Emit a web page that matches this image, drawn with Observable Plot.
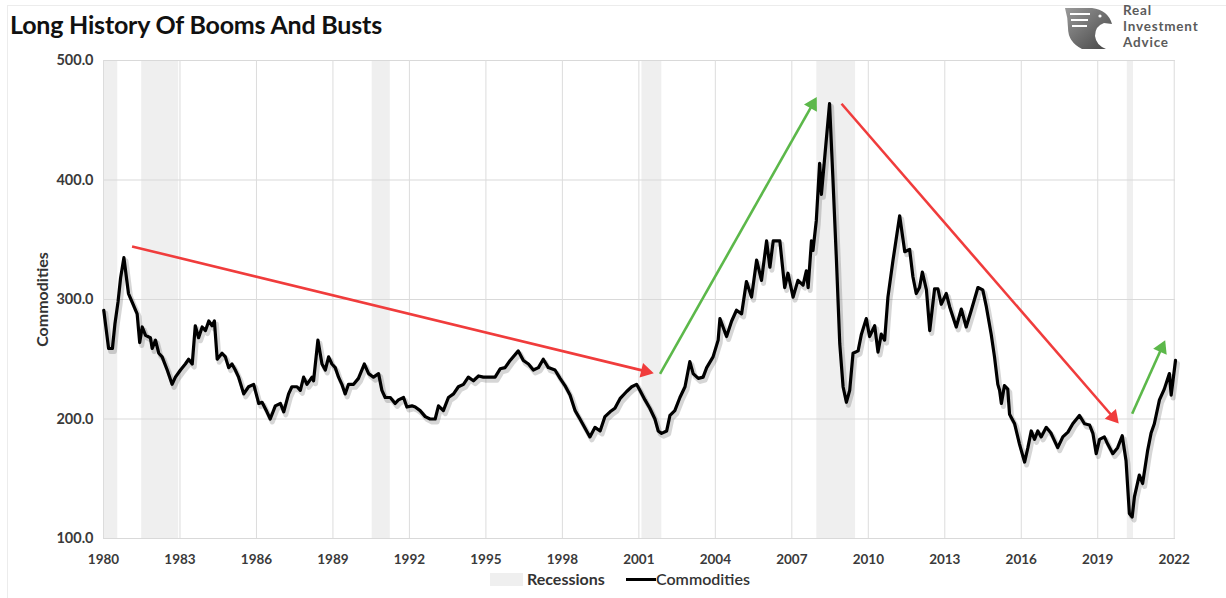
<!DOCTYPE html>
<html>
<head>
<meta charset="utf-8">
<script src="https://cdn.jsdelivr.net/npm/d3@7"></script>
<script src="https://cdn.jsdelivr.net/npm/@observablehq/plot@0.6"></script>
<style>
  html, body { margin: 0; padding: 0; background: #fff; }
  body { width: 1226px; height: 598px; overflow: hidden; position: relative; font-family: Lato, "Open Sans", sans-serif; }
  #frame { position: absolute; left: 7px; top: 5px; right: -2px; bottom: -2px; border-left: 1px solid #ececec; border-top: 1px solid #ececec; }
  #title { position: absolute; left: 10px; top: 9px; font-size: 25px; font-weight: 700; color: #111; letter-spacing: -0.2px; }
  #chart { position: absolute; left: 0; top: 48px; }
  #logo { position: absolute; left: 1062px; top: 4px; }
  #logotext { position: absolute; left: 1123px; top: 2px; font-size: 13.5px; font-weight: 700; color: #5b5b5b; line-height: 16.2px; letter-spacing: 0.8px; }
  #legend { position: absolute; top: 569px; left: 0; width: 1226px; height: 22px; font-size: 16px; color: #333; }
  .sw { position: absolute; }
</style>
</head>
<body>
<div id="frame"></div>
<div id="title">Long History Of Booms And Busts</div>
<svg id="logo" width="54" height="48" viewBox="0 0 54 48">
  <defs>
    <linearGradient id="lg" x1="0" y1="0" x2="1" y2="1">
      <stop offset="0" stop-color="#9a9a9a"/>
      <stop offset="1" stop-color="#444"/>
    </linearGradient>
  </defs>
  <path d="M3 4 L30 4 Q46 6 50 20 L42 19 Q33 22 33 32 Q34 41 44 45 L20 45 Q6 38 6 24 Q6 14 3 4 Z" fill="url(#lg)"/>
  <path d="M8 10 L28 10 M9 16 L26 16 M10 22 L25 22" stroke="#fff" stroke-width="2"/>
  <circle cx="38" cy="12" r="1.6" fill="#fff"/>
</svg>
<div id="logotext">Real<br>Investment<br>Advice</div>
<div id="chart"></div>
<div id="legend">
  <div class="sw" style="left:490px;top:4px;width:33px;height:13px;background:#efefef"></div>
  <div class="sw" style="left:527px;top:0px;font-weight:700">Recessions</div>
  <div class="sw" style="left:626px;top:9px;width:30px;height:3px;background:#000"></div>
  <div class="sw" style="left:656px;top:0px;font-weight:600">Commodities</div>
</div>
<script>
// ---- data ----
const years = [
  1980.01,1980.2,1980.35,1980.45,1980.57,1980.67,1980.8,1980.98,1981.12,1981.32,1981.42,1981.52,1981.65,1981.84,1981.91,
  1982.04,1982.17,1982.3,1982.5,1982.69,1982.82,1983.02,1983.21,1983.34,1983.48,1983.6,1983.73,1983.87,1984.0,1984.13,
  1984.26,1984.35,1984.46,1984.65,1984.78,1984.91,1985.04,1985.17,1985.3,1985.5,1985.69,1985.89,1986.09,1986.22,1986.41,
  1986.54,1986.74,1986.94,1987.07,1987.26,1987.39,1987.59,1987.72,1987.85,1987.98,1988.18,1988.24,1988.41,1988.57,1988.7,
  1988.83,1988.96,1989.09,1989.22,1989.35,1989.48,1989.61,1989.81,1990.0,1990.23,1990.4,1990.59,1990.79,1990.92,1991.05,
  1991.25,1991.44,1991.57,1991.77,1991.9,1992.1,1992.23,1992.42,1992.62,1992.81,1993.01,1993.14,1993.33,1993.53,1993.73,
  1993.92,1994.12,1994.31,1994.51,1994.71,1994.9,1995.16,1995.36,1995.56,1995.75,1995.95,1996.27,1996.47,1996.67,1996.86,
  1997.06,1997.25,1997.45,1997.71,1997.91,1998.1,1998.3,1998.5,1998.69,1998.82,1999.08,1999.28,1999.48,1999.67,1999.87,
  2000.06,2000.26,2000.52,2000.72,2000.91,2001.04,2001.24,2001.43,2001.63,2001.76,2001.89,2002.09,2002.22,2002.41,2002.61,
  2002.81,2003.0,2003.13,2003.33,2003.52,2003.66,2003.91,2004.11,2004.18,2004.44,2004.64,2004.83,2005.03,2005.22,2005.42,
  2005.62,2005.81,2006.01,2006.14,2006.27,2006.53,2006.72,2006.85,2007.05,2007.24,2007.44,2007.57,2007.64,2007.77,2007.83,
  2007.96,2008.09,2008.16,2008.29,2008.48,2008.61,2008.75,2008.88,2009.01,2009.14,2009.27,2009.4,2009.6,2009.73,2009.92,
  2010.05,2010.25,2010.38,2010.51,2010.64,2010.77,2010.97,2011.23,2011.43,2011.62,2011.75,2011.88,2012.01,2012.12,2012.28,
  2012.41,2012.6,2012.73,2012.86,2013.06,2013.19,2013.45,2013.65,2013.84,2014.04,2014.3,2014.49,2014.63,2014.82,2014.95,
  2015.08,2015.15,2015.22,2015.34,2015.47,2015.54,2015.74,2015.93,2016.13,2016.26,2016.39,2016.52,2016.65,2016.78,2016.98,
  2017.17,2017.43,2017.63,2017.83,2018.02,2018.28,2018.48,2018.68,2018.81,2018.94,2019.07,2019.26,2019.39,2019.59,2019.78,
  2019.96,2020.11,2020.24,2020.35,2020.44,2020.63,2020.76,2020.96,2021.09,2021.22,2021.42,2021.61,2021.81,2021.88,2022.05
];
const commodities = [
  291,259,259,280,298,318,335,305,298,288,264,277,270,268,259,
  266,255,252,241,229,235,241,246,250,246,278,268,277,274,282,
  278,282,250,255,252,243,246,241,235,221,227,229,213,214,206,
  200,211,213,206,221,227,227,224,235,229,235,232,266,246,241,
  252,246,243,235,229,221,229,229,234,246,238,235,238,224,218,
  218,213,216,218,210,211,210,207,202,200,200,211,207,218,221,
  227,229,235,232,236,235,235,235,242,243,249,257,249,246,241,
  243,250,243,241,234,228,220,207,200,195,185,193,190,202,206,
  209,217,223,227,229,224,216,209,200,190,188,190,203,207,218,
  227,248,238,234,235,243,252,266,284,269,282,291,288,315,302,
  333,316,349,327,349,349,310,322,302,316,312,324,310,349,341,
  366,414,388,419,464,402,333,263,227,214,224,255,257,271,284,
  269,278,256,271,266,302,333,370,340,342,319,305,310,323,308,
  274,309,309,296,305,294,277,292,277,291,310,308,294,271,252,
  229,224,213,228,225,204,196,179,164,176,190,183,190,185,193,
  188,176,185,189,196,203,196,195,188,171,183,185,179,171,176,
  186,165,121,118,135,153,146,174,188,196,216,225,238,220,249
];
const xTicks = [1980,1983,1986,1989,1992,1995,1998,2001,2004,2007,2010,2013,2016,2019,2022];
const yTicks = [100,200,300,400,500];
const recessionStart = [1980.0, 1981.5, 1990.54, 2001.12, 2007.98, 2020.16];
const recessionEnd   = [1980.56, 1982.95, 1991.25, 2001.9, 2009.5, 2020.4];
const arrowX1 = [1981.12, 2001.83, 2008.95, 2020.35];
const arrowY1 = [344.4, 237.8, 463.8, 204.4];
const arrowX2 = [2001.43, 2007.9, 2019.72, 2021.58];
const arrowY2 = [239.1, 466.5, 198.7, 262.9];
const arrowKind = ["bust", "boom", "bust", "boom"];

// ---- tables ----
const series = years.map((t, i) => ({t, v: commodities[i]}));
const recessions = recessionStart.map((s, i) => ({s, e: recessionEnd[i]}));
const arrows = arrowX1.map((x1, i) => ({x1, y1: arrowY1[i], x2: arrowX2[i], y2: arrowY2[i], kind: arrowKind[i]}));
const arrowColor = d => d.kind === "bust" ? "#f03c3c" : "#5cb84a";

const base = {
  width: 1226,
  height: 518,
  marginLeft: 103,
  marginRight: 51,
  marginTop: 12,
  marginBottom: 28,
  x: {type: "linear", domain: [1980, 2022.05]},
  y: {domain: [100, 500]}
};

// first pass: get the scales to orient the filled arrowheads in screen space
const probe = Plot.plot({...base, marks: [Plot.frame()]});
const sx = probe.scale("x"), sy = probe.scale("y");
const kx = (sx.apply(2001) - sx.apply(2000));
const ky = (sy.apply(100) - sy.apply(200)) / 100;
const heads = arrows.map(d => {
  const dxp = (d.x2 - d.x1) * kx, dyp = -(d.y2 - d.y1) * ky;
  const len = Math.hypot(dxp, dyp), ux = dxp / len, uy = dyp / len;
  const back = 4.5; // pixels from tip to triangle centroid
  return {
    ...d,
    hx: d.x2 - ux * back / kx,
    hy: d.y2 + uy * back / ky,
    lx: d.x2 - ux * 7 / kx,
    ly: d.y2 + uy * 7 / ky,
    angle: Math.atan2(dyp, dxp) * 180 / Math.PI + 90
  };
});

const chart = Plot.plot({
  ...base,
  style: {fontFamily: "Lato, 'Open Sans', sans-serif", fontSize: "14px", fontWeight: "bold", color: "#3a3a3a", background: "transparent"},
  marks: [
    Plot.rect(recessions, {x1: "s", x2: "e", fill: "#efefef"}),
    Plot.gridY(yTicks, {stroke: "#d9d9d9", strokeOpacity: 1, strokeWidth: 1}),
    Plot.gridX(xTicks, {stroke: "#dcdcdc", strokeOpacity: 1, strokeWidth: 1}),
    Plot.axisY(yTicks, {tickSize: 0, tickPadding: 10, tickFormat: d => d.toFixed(1), label: null, fontSize: 14.5}),
    Plot.axisX(xTicks, {tickSize: 0, tickPadding: 16, tickFormat: d => String(d), label: null, fontSize: 13.5}),
    Plot.text(["Commodities"], {frameAnchor: "left", textAnchor: "middle", dx: -61, rotate: -90, fontSize: 16, fontWeight: "bold", fill: "#333"}),
    Plot.line(series, {x: "t", y: "v", stroke: "#000", strokeOpacity: 0.16, strokeWidth: 5, dx: 2, dy: 3, strokeLinejoin: "round"}),
    Plot.line(series, {x: "t", y: "v", stroke: "#000", strokeWidth: 3.2, strokeLinejoin: "round"}),
    Plot.link(heads, {x1: "x1", y1: "y1", x2: "lx", y2: "ly", stroke: arrowColor, strokeWidth: 2.6}),
    Plot.dot(heads, {x: "hx", y: "hy", symbol: "triangle", r: 5.5, rotate: "angle", fill: arrowColor, stroke: "none"})
  ]
});
document.getElementById("chart").appendChild(chart);
</script>
</body>
</html>
